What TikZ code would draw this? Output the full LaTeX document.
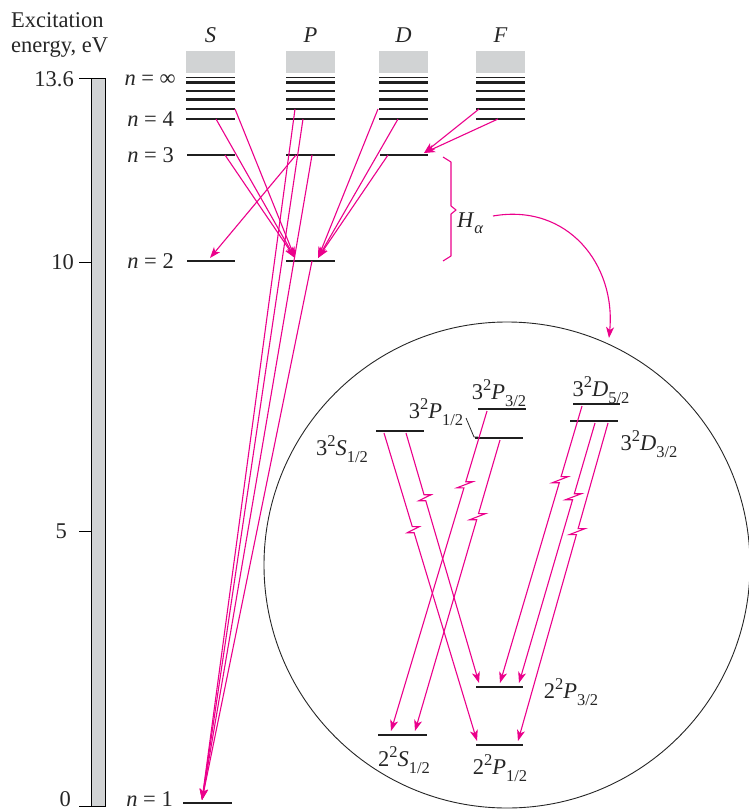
\documentclass[tikz,border=0pt]{standalone}
\usepackage{fontspec}
\setmainfont{Liberation Serif}
\usetikzlibrary{arrows.meta,calc}
\definecolor{mag}{RGB}{235,0,139}
\definecolor{lgray}{RGB}{209,211,212}
\newcommand\bigtxt{\fontsize{22.5}{25}\selectfont}
\newcommand\smtxt{\fontsize{16.5}{16.5}\selectfont}
\newcommand\termlbl[3]{#1\raisebox{0.42em}{\smtxt 2}\textit{#2}\raisebox{-0.28em}{\smtxt #3}}
\newcommand\nlbl[1]{\textit{n} = #1}
\newcommand\zzline[4]{%
  \draw[tr] (#1) -- ($(#1)!#3!(#2)$) -- ++(7,0) -- ($(#1)!#4!(#2)+(-7,0)$) -- ($(#1)!#4!(#2)$) -- (#2);}
\tikzset{
  lev/.style={line width=2.6pt, black!88},
  thinlev/.style={line width=1.4pt, black!88},
  tr/.style={mag, line width=1.1pt, -{Stealth[length=11pt,width=8pt,inset=3pt]}},
  lbl/.style={inner sep=0pt, text=black!85, font=\bigtxt},
}
\begin{document}
\begin{tikzpicture}[x=1pt,y=-1pt]
\useasboundingbox (0,0) rectangle (748,810);

% axis title
\node[lbl, anchor=base west] (t1) at (11,28) {Excitation};
\node[lbl, anchor=base west] (t2) at (11,53) {energy, eV};

% energy bar
\draw[fill=lgray, line width=0.9pt] (91,78) rectangle (105,806);
\draw[line width=0.9pt] (79,78) -- (91,78) (79,262) -- (91,262) (79,531) -- (91,531) (79,806) -- (91,806);
\node[lbl, anchor=east] (e136) at (74,79) {13.6};
\node[lbl, anchor=east] (e10) at (74,262) {10};
\node[lbl, anchor=east] (e5) at (67,531) {5};
\node[lbl, anchor=east] (e0) at (71,799) {0};

% columns
\foreach \x/\n in {186/S,286/P,379/D,476/F}{
  \node[lbl, anchor=base] (h\n) at (\x+24.5,43) {\textit{\n}};
  \fill[lgray] (\x,51) rectangle (\x+49,73);
  \draw[thinlev] (\x,77.5) -- (\x+49,77.5);
  \foreach \y in {82.5,91,99.5,109,119}{\draw[lev] (\x,\y) -- (\x+49,\y);}
}
% n labels
\node[lbl, anchor=east] (ninf) at (176,80) {\nlbl{∞}};
\node[lbl, anchor=east] (n4) at (174,119) {\nlbl{4}};
\node[lbl, anchor=east] (n3) at (174,155) {\nlbl{3}};
\node[lbl, anchor=east] (n2) at (174,261) {\nlbl{2}};
\node[lbl, anchor=east] (n1) at (173,799) {\nlbl{1}};

% lower levels
\draw[lev] (187,155) -- (235,155);
\draw[lev] (286,155) -- (335,155);
\draw[lev] (380,155) -- (428,155);
\draw[lev] (187,261) -- (235,261);
\draw[lev] (286,261) -- (335,261);
\draw[lev] (183,803) -- (232,803);

% transition endpoints
\coordinate (S5) at (235,109);
\coordinate (S4) at (216,119);
\coordinate (S3) at (225,155);
\coordinate (P5) at (295,109);
\coordinate (P4) at (303,119);
\coordinate (P3a) at (296,155);
\coordinate (P3b) at (312,155);
\coordinate (P2) at (312,261);
\coordinate (D5) at (378,109);
\coordinate (D4) at (398,119);
\coordinate (D3) at (388,155);
\coordinate (F5) at (479,109);
\coordinate (F4) at (498,119);
\coordinate (tP2a) at (295,258);
\coordinate (tP2b) at (318,258);
\coordinate (tS2) at (210,258);
\coordinate (tS1) at (202,800);
\coordinate (tD3) at (424,153);

\foreach \a in {S5,S4,S3}{\draw[tr] (\a) -- (tP2a);}
\draw[tr] (P3a) -- (tS2);
\foreach \a in {P5,P4,P3b,P2}{\draw[tr] (\a) -- (tS1);}
\foreach \a in {D5,D4,D3}{\draw[tr] (\a) -- (tP2b);}
\foreach \a in {F5,F4}{\draw[tr] (\a) -- (tD3);}

% H alpha brace
\draw[mag, line width=1.1pt, line join=round] (443,157) -- (451,162) -- (451,206) -- (456,210) -- (451,214) -- (451,256) -- (443,261);
\node[lbl, anchor=base west] (Ha) at (457,227) {\textit{H}\raisebox{-0.28em}{\smtxt\textit{α}}};
\coordinate (arcS) at (493,216);
\coordinate (arcE) at (609,338);
\draw[tr] (arcS) .. controls (568,203) and (616,265) .. (arcE);

% circle
\draw[line width=0.9pt, black!85] (507,565) circle[radius=243pt];

% fine-structure levels
\draw[lev] (376,431) -- (424,431);
\draw[lev] (475,438) -- (523,438);
\draw[lev] (478,409) -- (526,409);
\draw[lev] (573,404) -- (620,404);
\draw[lev] (570,421) -- (618,421);
\draw[lev] (476,687) -- (523,687);
\draw[lev] (378,735) -- (427,735);
\draw[lev] (476,745) -- (523,745);

\node[lbl] (L3S) at (342,449) {\termlbl{3}{S}{1/2}};
\node[lbl] (L3P1) at (436,412) {\termlbl{3}{P}{1/2}};
\node[lbl] (L3P3) at (499,393) {\termlbl{3}{P}{3/2}};
\node[lbl] (L3D5) at (601,390) {\termlbl{3}{D}{5/2}};
\node[lbl] (L3D3) at (649,444) {\termlbl{3}{D}{3/2}};
\node[lbl] (L2P3) at (571,692) {\termlbl{2}{P}{3/2}};
\node[lbl] (L2S) at (404,760) {\termlbl{2}{S}{1/2}};
\node[lbl] (L2P1) at (500,768) {\termlbl{2}{P}{1/2}};
\draw[line width=0.8pt, black!85] (466,418) -- (474,437) -- (478,437);

% fine-structure transitions
\coordinate (a1) at (384,433); \coordinate (b1) at (477,741);
\coordinate (a2) at (406,433); \coordinate (b2) at (479,683);
\coordinate (a3) at (487,411); \coordinate (b3) at (391,731);
\coordinate (a4) at (500,440); \coordinate (b4) at (415,731);
\coordinate (a5) at (582,406); \coordinate (b5) at (500,683);
\coordinate (a6) at (595,423); \coordinate (b6) at (519,683);
\coordinate (a7) at (608,423); \coordinate (b7) at (518,741);
\zzline{a1}{b1}{0.304}{0.324}
\zzline{a2}{b2}{0.247}{0.271}
\zzline{a3}{b3}{0.221}{0.240}
\zzline{a4}{b4}{0.253}{0.274}
\zzline{a5}{b5}{0.255}{0.277}
\zzline{a6}{b6}{0.272}{0.295}
\zzline{a7}{b7}{0.332}{0.351}
\end{tikzpicture}
\end{document}
